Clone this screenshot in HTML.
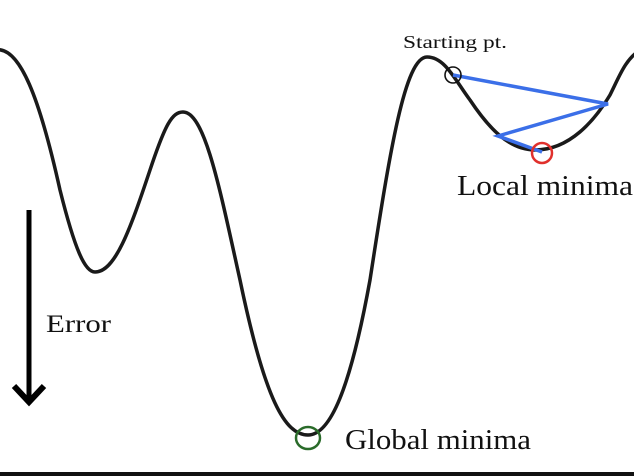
<!DOCTYPE html>
<html><head><style>
html,body{margin:0;padding:0;background:#fff;}
svg{display:block;}
text{font-family:"Liberation Serif",serif;fill:#111;}
</style></head><body>
<svg width="634" height="476" viewBox="0 0 634 476" xmlns="http://www.w3.org/2000/svg">
<rect width="634" height="476" fill="#fff"/>
<path d="M -5,50 C 20,45 40,100 60,190 C 75,250 85,272 95,272 C 115,272 130,230 150,170 C 165,125 172,112 183,112 C 205,112 220,190 240,280 C 265,400 285,435 308,435 C 330,435 350,390 370,280 C 390,150 405,57 427,57 C 445,57 455,80 470,100 C 490,130 510,150 535,150 C 570,150 595,120 610,95 C 620,75 625,60 640,50" fill="none" stroke="#1a1a1a" stroke-width="3.5"/>
<polyline points="453,75 608,104 498,136 542,152" fill="none" stroke="#3b6fe8" stroke-width="3.5" stroke-linejoin="miter"/>
<circle cx="453" cy="75" r="8" fill="none" stroke="#111" stroke-width="1.6"/>
<circle cx="542" cy="153" r="10" fill="none" stroke="#e0302c" stroke-width="2.5"/>
<ellipse cx="308" cy="438" rx="12" ry="11" fill="none" stroke="#2a6b2a" stroke-width="2.5"/>
<line x1="29" y1="210" x2="29" y2="400" stroke="#000" stroke-width="5"/>
<polyline points="14,386 29,402 44,386" fill="none" stroke="#000" stroke-width="6"/>
<text x="403" y="48" font-size="18" textLength="104" lengthAdjust="spacingAndGlyphs">Starting pt.</text>
<text x="457" y="195" font-size="29" textLength="176" lengthAdjust="spacingAndGlyphs">Local minima</text>
<text x="46" y="332" font-size="25" textLength="65" lengthAdjust="spacingAndGlyphs">Error</text>
<text x="345" y="449" font-size="28" textLength="186" lengthAdjust="spacingAndGlyphs">Global minima</text>
<rect x="0" y="472" width="634" height="4" fill="#111"/>
</svg>
</body></html>
